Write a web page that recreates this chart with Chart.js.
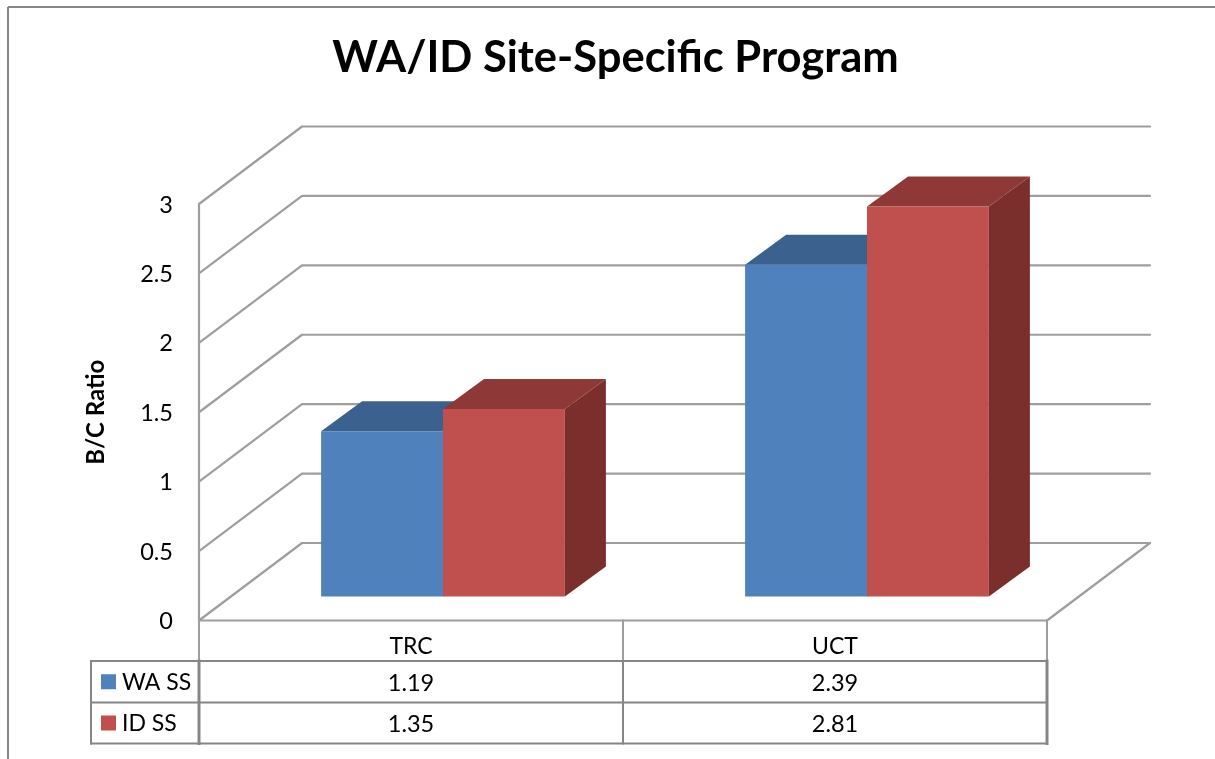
<!DOCTYPE html>
<html>
<head>
<meta charset="utf-8">
<style>
html,body{margin:0;padding:0;background:#fff;overflow:hidden}
#wrap{position:absolute;left:0;top:0;width:1215px;height:759px}
</style>
<script src="https://cdn.jsdelivr.net/npm/chart.js@4"></script>
</head>
<body>
<div id="wrap"><canvas id="c" width="1215" height="759"></canvas></div>
<script>
const chartTitle = "WA/ID Site-Specific Program";
const yAxisTitle = "B/C Ratio";
const categories = ["TRC", "UCT"];
const seriesNames = ["WA SS", "ID SS"];
const waSS = [1.19, 2.39];
const idSS = [1.35, 2.81];
const yMin = 0, yMax = 3, yStep = 0.5;

const FONT = "Lato, Carlito, Calibri, sans-serif";
const GRID = "#9e9e9e";
const TABLE = "#868686";
const depth = {x: 103, y: -77.5};
const barDepth = {x: 41, y: -30};
const barShift = {x: 32, y: -24};
const tableRows = [661, 702.5, 743.5];
const tableLeft = 91;
const faces = [
  {front: "#4f81bd", top: "#3b618f", side: "#345680"},
  {front: "#c0504d", top: "#8e3937", side: "#7b2f2d"}
];

function line(ctx, x1, y1, x2, y2, color, w) {
  ctx.strokeStyle = color; ctx.lineWidth = w;
  ctx.beginPath(); ctx.moveTo(x1, y1); ctx.lineTo(x2, y2); ctx.stroke();
}
function poly(ctx, pts, fill) {
  ctx.fillStyle = fill; ctx.beginPath();
  pts.forEach((p, i) => i ? ctx.lineTo(p[0], p[1]) : ctx.moveTo(p[0], p[1]));
  ctx.closePath(); ctx.fill();
}

const threeD = {
  id: "threeD",
  beforeDraw(chart) {
    const ctx = chart.ctx;
    ctx.save();
    line(ctx, 8, 759, 8, 7, "#868686", 2);
    line(ctx, 8, 7, 1215, 7, "#868686", 2);
    ctx.restore();
  },
  beforeDatasetsDraw(chart) {
    const ctx = chart.ctx, y = chart.scales.y, a = chart.chartArea;
    ctx.save();
    ctx.lineJoin = "round"; ctx.lineCap = "round";
    y.ticks.forEach(t => {
      const py = y.getPixelForValue(t.value);
      ctx.strokeStyle = GRID; ctx.lineWidth = 2.2;
      ctx.beginPath();
      ctx.moveTo(a.left, py);
      ctx.lineTo(a.left + depth.x, py + depth.y);
      ctx.lineTo(a.right + depth.x, py + depth.y);
      ctx.stroke();
    });
    const y0 = y.getPixelForValue(yMin);
    line(ctx, a.left, y.getPixelForValue(yMax), a.left, y0, GRID, 2.2);
    line(ctx, a.left, y0, a.right, y0, GRID, 2.2);
    line(ctx, a.right, y0, a.right + depth.x, y0 + depth.y, GRID, 2.2);
    ctx.restore();
    ctx.save();
    ctx.translate(barShift.x, barShift.y);
    // depth faces first, series by series; the flat fronts from Chart.js go on top
    faces.forEach((c, i) => {
      chart.getDatasetMeta(i).data.forEach(b => {
        const l = b.x - b.width / 2, r = b.x + b.width / 2, tp = b.y, bt = b.base;
        const dx = barDepth.x, dy = barDepth.y;
        poly(ctx, [[r, tp], [r + dx, tp + dy], [r + dx, bt + dy], [r, bt]], c.side);
        poly(ctx, [[l, tp], [l + dx, tp + dy], [r + dx, tp + dy], [r, tp]], c.top);
      });
    });
  },
  afterDatasetsDraw(chart) {
    const ctx = chart.ctx, a = chart.chartArea, x = chart.scales.x;
    ctx.restore();
    ctx.save();
    ctx.lineCap = "square";
    const mid = (x.getPixelForValue(0) + x.getPixelForValue(1)) / 2;
    const top = tableRows[0], bot = tableRows[2];
    line(ctx, a.left, a.bottom, a.left, top, GRID, 2);
    line(ctx, mid, a.bottom, mid, top, GRID, 2);
    line(ctx, a.right, a.bottom, a.right, top, GRID, 2);
    tableRows.forEach(ry => line(ctx, tableLeft, ry, a.right, ry, TABLE, 2));
    line(ctx, tableLeft, top, tableLeft, bot, TABLE, 2);
    line(ctx, a.left, top, a.left, bot, TABLE, 3);
    line(ctx, mid, top, mid, bot, TABLE, 2);
    line(ctx, a.right, top, a.right, bot, TABLE, 3);

    ctx.textBaseline = "middle";
    chart.data.datasets.forEach((ds, i) => {
      const cy = (tableRows[i] + tableRows[i + 1]) / 2;
      ctx.fillStyle = ds.backgroundColor;
      ctx.fillRect(101, cy - 7.5, 15, 15);
      ctx.fillStyle = "#000";
      ctx.textAlign = "left";
      ctx.font = "23px " + FONT;
      ctx.fillText(ds.label, 122, cy + 1);
      ctx.textAlign = "center";
      ctx.font = "23.5px " + FONT;
      ds.data.forEach((v, j) => ctx.fillText(v.toFixed(2), x.getPixelForValue(j), cy + 1.5));
    });
    ctx.restore();
  }
};

new Chart(document.getElementById("c"), {
  type: "bar",
  data: {
    labels: categories,
    datasets: [
      {label: seriesNames[0], data: waSS, backgroundColor: faces[0].front, borderWidth: 0},
      {label: seriesNames[1], data: idSS, backgroundColor: faces[1].front, borderWidth: 0}
    ]
  },
  plugins: [threeD],
  options: {
    responsive: false,
    animation: false,
    devicePixelRatio: 1,
    layout: {padding: {left: 16, top: 0, right: 0, bottom: 0}},
    categoryPercentage: 0.575,
    barPercentage: 1,
    clip: false,
    plugins: {
      legend: {display: false},
      tooltip: {enabled: false},
      title: {
        display: true, text: chartTitle, color: "#000",
        font: {family: FONT, size: 43.5, weight: "bold", lineHeight: 1.2},
        padding: {top: 32, bottom: 119.8}
      }
    },
    scales: {
      x: {
        grid: {display: false, drawTicks: false}, border: {display: false},
        ticks: {color: "#000", font: {family: FONT, size: 23}, padding: 12, maxRotation: 0},
        afterFit(s) { s.height = 138.5; }
      },
      y: {
        min: yMin, max: yMax,
        grid: {display: false, drawTicks: false}, border: {display: false},
        ticks: {stepSize: yStep, color: "#000", font: {family: FONT, size: 23.5}, padding: 26,
                labelOffset: 1, callback: v => String(v)},
        title: {display: true, text: yAxisTitle, color: "#000",
                font: {family: FONT, size: 24, weight: "bold", lineHeight: 1.2},
                padding: {top: 65.6, bottom: 0}},
        afterFit(s) { s.width = 183; }
      },
      spacer: {
        type: "linear", position: "right", display: true,
        grid: {display: false, drawTicks: false}, border: {display: false},
        ticks: {display: false},
        afterFit(s) { s.width = 168; }
      }
    }
  }
});
</script>
</body>
</html>
